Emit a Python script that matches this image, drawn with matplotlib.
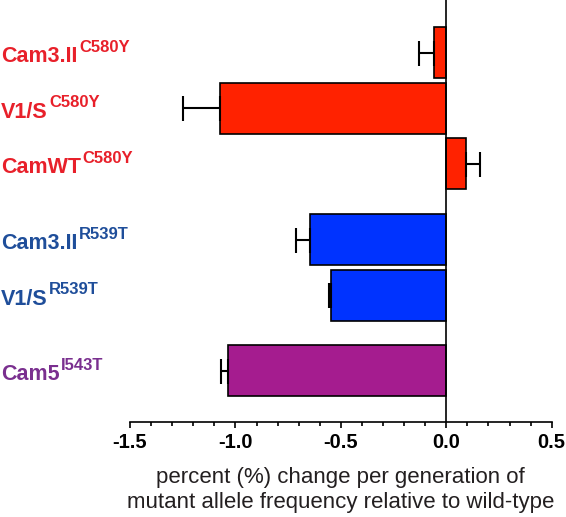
import matplotlib
matplotlib.use('Agg')
import matplotlib.pyplot as plt
import matplotlib.transforms as mtransforms
from matplotlib.ticker import MultipleLocator

plt.rcParams['font.family'] = ['Liberation Sans', 'DejaVu Sans']

# ---- data ----
names = ['Cam3.II', 'V1/S', 'CamWT', 'Cam3.II', 'V1/S', 'Cam5']
mutations = ['C580Y', 'C580Y', 'C580Y', 'R539T', 'R539T', 'I543T']
values = [-0.06, -1.075, 0.095, -0.648, -0.549, -1.037]
errors = [0.07, 0.175, 0.065, 0.067, 0.008, 0.03]
xticks = [-1.5, -1.0, -0.5, 0.0, 0.5]
xticklabels = ['-1.5', '-1.0', '-0.5', '0.0', '0.5']
xlabel = 'percent (%) change per generation of\nmutant allele frequency relative to wild-type'

# ---- style ----
bar_colors = ['#FF2200'] * 3 + ['#0033FF'] * 2 + ['#A51C8F']
label_colors = ['#E8202A'] * 3 + ['#1F4E9A'] * 2 + ['#7A2F8F']
ypos = [0, 1, 2, 3.37, 4.37, 5.73]

W, H = 566, 517
fig = plt.figure(figsize=(W / 100, H / 100), dpi=100)
ax = fig.add_axes([130 / W, 1 - 422 / H, (551.7 - 130) / W, 422 / H])

ax.barh(ypos, values, height=0.92, color=bar_colors, edgecolor='black',
        linewidth=1.2, zorder=2)

lower = [e if v < 0 else 0 for v, e in zip(values, errors)]
upper = [e if v >= 0 else 0 for v, e in zip(values, errors)]
ax.errorbar(values, ypos, xerr=[lower, upper], fmt='none', ecolor='black',
            elinewidth=1.5, capsize=9, capthick=1.5, zorder=3)

ax.axvline(0, color='black', linewidth=1.2, zorder=4)

ax.set_xlim(-1.5, 0.5)
ax.set_ylim(6.65, -0.95)
for s in ['top', 'right', 'left']:
    ax.spines[s].set_visible(False)
ax.spines['bottom'].set_linewidth(1.2)
ax.set_yticks([])
ax.set_xticks(xticks)
ax.set_xticklabels(xticklabels, fontsize=14.5, fontweight='bold')
ax.xaxis.set_minor_locator(MultipleLocator(0.1))
ax.tick_params(axis='x', which='major', direction='out', length=4.5, width=1.2, pad=3.5)
ax.tick_params(axis='x', which='minor', direction='out', length=3, width=1.2)
ax.set_xlabel(xlabel, fontsize=16, labelpad=11, color='#231F20')

# y labels with superscripts
blend = mtransforms.blended_transform_factory(fig.transFigure, ax.transData)
base_tr = mtransforms.offset_copy(blend, fig=fig, x=0, y=-9.5, units='dots')
mains = []
for y, n, c in zip(ypos, names, label_colors):
    t = fig.text(1 / W, y, n, transform=base_tr, fontsize=15.5, fontweight='bold',
                 color=c, ha='left', va='baseline')
    mains.append(t)

fig.canvas.draw()
renderer = fig.canvas.get_renderer()
for y, t, m, c in zip(ypos, mains, mutations, label_colors):
    bb = t.get_window_extent(renderer)
    x1 = bb.x1 / W
    sup_tr = mtransforms.offset_copy(blend, fig=fig, x=1.5, y=-9.5 + 10.5, units='dots')
    fig.text(x1, y, m, transform=sup_tr, fontsize=12, fontweight='bold',
             color=c, ha='left', va='baseline')

fig.savefig('out.png', dpi=100)
